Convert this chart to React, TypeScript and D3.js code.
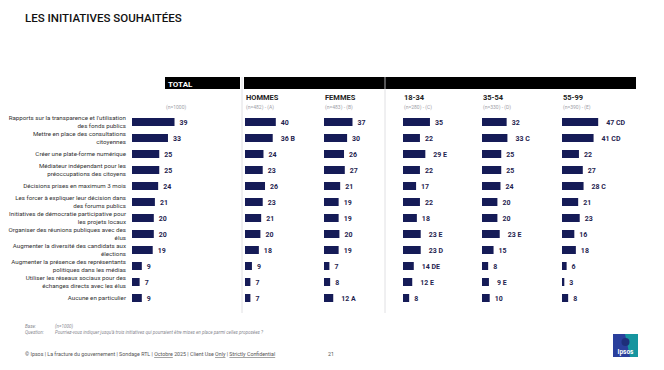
import React, { useEffect, useRef } from 'react';
import * as d3 from 'd3';

const items = [
  ["Rapports sur la transparence et l'utilisation", 'des fonds publics'],
  ['Mettre en place des consultations', 'citoyennes'],
  ['Créer une plate-forme numérique'],
  ['Médiateur indépendant pour les', 'préoccupations des citoyens'],
  ['Décisions prises en maximum 3 mois'],
  ['Les forcer à expliquer leur décision dans', 'des forums publics'],
  ['Initiatives de démocratie participative pour', 'les projets locaux'],
  ['Organiser des réunions publiques avec des', 'élus'],
  ['Augmenter la diversité des candidats aux', 'élections'],
  ['Augmenter la présence des représentants', 'politiques dans les médias'],
  ['Utiliser les réseaux sociaux pour des', 'échanges directs avec les élus'],
  ['Aucune en particulier'],
];

const total = [39, 33, 25, 25, 24, 21, 20, 20, 19, 9, 7, 9];

const groups = ['HOMMES', 'FEMMES', '18-34', '35-54', '55-99'];
const groupBases = ['(n=482) - (A)', '(n=483) - (B)', '(n=280) - (C)', '(n=330) - (D)', '(n=390) - (E)'];

const hommes = [40, 36, 24, 23, 26, 23, 21, 20, 18, 9, 7, 7];
const femmes = [37, 30, 26, 27, 21, 19, 19, 20, 19, 7, 8, 12];
const age1834 = [35, 22, 29, 22, 17, 22, 18, 23, 23, 14, 12, 8];
const age3554 = [32, 33, 25, 25, 24, 20, 20, 23, 15, 8, 9, 10];
const age5599 = [47, 41, 22, 27, 28, 21, 23, 16, 18, 6, 3, 8];

const hommesSig = ['', 'B', '', '', '', '', '', '', '', '', '', ''];
const femmesSig = ['', '', '', '', '', '', '', '', '', '', '', 'A'];
const age1834Sig = ['', '', 'E', '', '', '', '', 'E', 'D', 'DE', 'E', ''];
const age3554Sig = ['', 'C', '', '', '', '', '', 'E', '', '', 'E', ''];
const age5599Sig = ['CD', 'CD', '', '', 'C', '', '', '', '', '', '', ''];

const groupValues = [hommes, femmes, age1834, age3554, age5599];
const groupSig = [hommesSig, femmesSig, age1834Sig, age3554Sig, age5599Sig];

const FONT = 'Roboto, sans-serif';
const NAVY = '#151b57';

export default function App() {
  const ref = useRef<SVGSVGElement>(null);

  useEffect(() => {
    const svg = d3.select(ref.current);
    svg.selectAll('*').remove();

    // slide edge
    svg.append('rect').attr('x', 658).attr('y', 0).attr('width', 6).attr('height', 370).attr('fill', '#ececee');

    svg.append('text')
      .attr('x', 25).attr('y', 22)
      .attr('font-family', FONT).attr('font-size', 11.5).attr('font-weight', 500)
      .attr('fill', '#111')
      .text('LES INITIATIVES SOUHAITÉES');

    const y = d3.scaleBand<number>()
      .domain(d3.range(items.length))
      .range([114, 306])
      .paddingInner(0.5).paddingOuter(0.25);

    const xTotal = d3.scaleLinear().domain([0, 100]).range([0, 109]);
    const xGroup = d3.scaleLinear().domain([0, 100]).range([0, 77]);

    // header bars
    svg.append('rect').attr('x', 165).attr('y', 77).attr('width', 75).attr('height', 12).attr('fill', '#000');
    svg.append('text').attr('x', 168).attr('y', 86.5)
      .attr('font-family', FONT).attr('font-size', 8).attr('font-weight', 700).attr('fill', '#fff')
      .text('TOTAL');
    svg.append('rect').attr('x', 244).attr('y', 77).attr('width', 392).attr('height', 12).attr('fill', '#000');

    // separators
    [242, 385].forEach(x => {
      svg.append('line').attr('x1', x).attr('x2', x).attr('y1', 77).attr('y2', 313)
        .attr('stroke', '#d8d8dc').attr('stroke-width', 0.8);
    });

    svg.append('text').attr('x', 166).attr('y', 109)
      .attr('font-family', FONT).attr('font-size', 5).attr('fill', '#a0a0a8')
      .text('(n=1000)');

    // row labels
    const lab = svg.append('g').attr('font-family', FONT).attr('font-size', 6.2)
      .attr('fill', '#333').attr('text-anchor', 'end');
    items.forEach((lines, i) => {
      const cy = (y(i) as number) + y.bandwidth() / 2;
      const t = lab.append('text').attr('x', 126);
      if (lines.length === 1) {
        t.append('tspan').attr('x', 126).attr('y', cy + 2.2).text(lines[0]);
      } else {
        t.append('tspan').attr('x', 126).attr('y', cy - 1.8).text(lines[0]);
        t.append('tspan').attr('x', 126).attr('y', cy + 6).text(lines[1]);
      }
    });

    // total bars
    const tg = svg.append('g');
    tg.selectAll('rect').data(total).join('rect')
      .attr('x', 132)
      .attr('y', (d, i) => y(i) as number)
      .attr('width', d => xTotal(d))
      .attr('height', y.bandwidth())
      .attr('fill', NAVY);
    tg.selectAll('text').data(total).join('text')
      .attr('x', d => 132 + xTotal(d) + 5)
      .attr('y', (d, i) => (y(i) as number) + y.bandwidth() / 2 + 2.5)
      .attr('font-family', FONT).attr('font-size', 7).attr('font-weight', 700).attr('fill', '#1f2450')
      .text(d => d);

    const colX = [245, 324, 403, 482, 562];
    groups.forEach((g, gi) => {
      const x0 = colX[gi];
      svg.append('text').attr('x', x0 + 1).attr('y', 100)
        .attr('font-family', FONT).attr('font-size', 7.5).attr('font-weight', 700).attr('fill', '#222')
        .text(g);
      svg.append('text').attr('x', x0 + 1).attr('y', 109)
        .attr('font-family', FONT).attr('font-size', 5).attr('fill', '#a0a0a8')
        .text(groupBases[gi]);
      const vals = groupValues[gi];
      const sig = groupSig[gi];
      const gg = svg.append('g');
      gg.selectAll('rect').data(vals).join('rect')
        .attr('x', x0)
        .attr('y', (d, i) => y(i) as number)
        .attr('width', d => xGroup(d))
        .attr('height', y.bandwidth())
        .attr('fill', NAVY);
      gg.selectAll('text').data(vals).join('text')
        .attr('x', (d, i) => x0 + xGroup(d) + (sig[i] ? 8 : 5))
        .attr('y', (d, i) => (y(i) as number) + y.bandwidth() / 2 + 2.5)
        .attr('font-family', FONT).attr('font-size', 7).attr('font-weight', 700).attr('fill', '#1f2450')
        .text((d, i) => (sig[i] ? `${d} ${sig[i]}` : `${d}`));
    });

    // footnotes
    const fn = svg.append('g').attr('font-family', FONT).attr('font-size', 4.6)
      .attr('font-style', 'italic').attr('fill', '#8a8a92');
    fn.append('text').attr('x', 25).attr('y', 328).text('Base:');
    fn.append('text').attr('x', 55).attr('y', 328).text('(n=1000)');
    fn.append('text').attr('x', 25).attr('y', 334).text('Question:');
    fn.append('text').attr('x', 55).attr('y', 334)
      .text('Pourriez-vous indiquer jusqu\u2019à trois initiatives  qui pourraient être mises en place parmi celles proposées ?');

    const ft = svg.append('text').attr('x', 25).attr('y', 356)
      .attr('font-family', FONT).attr('font-size', 5.3).attr('fill', '#555');
    ft.append('tspan').text('© Ipsos | La fracture du gouvernement | Sondage RTL | ');
    ft.append('tspan').attr('text-decoration', 'underline').text('Octobre');
    ft.append('tspan').text(' 2025 | Client Use ');
    ft.append('tspan').attr('text-decoration', 'underline').text('Only');
    ft.append('tspan').text(' | ');
    ft.append('tspan').attr('text-decoration', 'underline').text('Strictly Confidential');
    svg.append('text').attr('x', 328).attr('y', 356)
      .attr('font-family', FONT).attr('font-size', 5.3).attr('fill', '#555').text('21');

    // logo
    const logo = svg.append('g').attr('transform', 'translate(613,334)');
    logo.append('rect').attr('width', 25).attr('height', 23).attr('fill', '#2a3f9c');
    logo.append('path').attr('d', 'M12,0 L25,0 L25,23 L17,23 Z').attr('fill', '#13a5a0').attr('opacity', 0.85);
    logo.append('circle').attr('cx', 12.5).attr('cy', 8).attr('r', 4).attr('fill', '#1e2f7a');
    logo.append('text').attr('x', 12.5).attr('y', 20).attr('text-anchor', 'middle')
      .attr('font-family', FONT).attr('font-size', 6.5).attr('font-weight', 700).attr('fill', '#fff')
      .text('Ipsos');
  }, []);

  return (
    <div style={{ margin: -8, width: 664, height: 370, background: '#fff' }}>
      <svg ref={ref} width={664} height={370} style={{ display: 'block' }} />
    </div>
  );
}
